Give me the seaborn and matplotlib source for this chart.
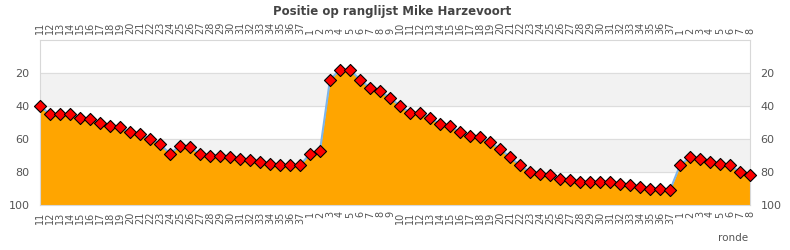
import matplotlib
matplotlib.use("Agg")
import matplotlib.pyplot as plt
import seaborn as sns
import pandas as pd
import numpy as np

rounds = ([str(i) for i in range(11, 38)] + [str(i) for i in range(1, 38)]
          + [str(i) for i in range(1, 9)])
positions = [40, 45, 45, 45, 47, 48, 50, 52, 53, 56, 57, 60, 63, 69, 64, 65, 69, 70, 70, 71,
             72, 73, 74, 75, 76, 76, 76,
             69, 67, 24, 18, 18, 24, 29, 31, 35, 40, 44, 44, 47, 51, 52, 56, 58, 59, 62, 66,
             71, 76, 80, 81, 82, 84, 85, 86, 86, 86, 86, 87, 88, 89, 90, 90, 91,
             76, 71, 72, 74, 75, 76, 80, 82]
y_ticks = [20, 40, 60, 80, 100]

df = pd.DataFrame({"idx": np.arange(len(rounds)), "pos": positions})

sns.set_style("white")
plt.rcParams['font.family'] = ['DejaVu Sans']

fig = plt.figure(figsize=(7.9, 2.5), dpi=100)
ax = fig.add_axes([40/790, 1-205/250, 710/790, 165/250])

for lo, hi in [(20, 40), (60, 80)]:
    ax.axhspan(lo, hi, color="#f2f2f2", zorder=0)
for t in [20, 40, 60, 80]:
    ax.axhline(t, color="#dddddd", lw=0.8, zorder=0.5)

ax.fill_between(df["idx"], df["pos"], 100, color="#FFA500", zorder=1, lw=0)
sns.lineplot(data=df, x="idx", y="pos", ax=ax, color="#7cb5ec", lw=1.5, zorder=2)
sns.scatterplot(data=df, x="idx", y="pos", ax=ax, marker="D", s=38, color="#ff0000",
                edgecolor="black", linewidth=0.8, zorder=3, clip_on=False)

ax.set_xlim(0, len(rounds) - 1)
ax.set_ylim(100, 0)
ax.set_yticks(y_ticks)
ax.set_yticklabels([str(v) for v in y_ticks])
ax.set_xticks(df["idx"])
ax.set_xticklabels(rounds, rotation=90)
ax.tick_params(axis="x", labeltop=True, labelbottom=True, top=False, bottom=False,
               labelsize=7, labelcolor="#555555", pad=1)
ax.tick_params(axis="y", labelleft=True, labelright=True, left=False, right=False,
               labelsize=8, labelcolor="#555555", pad=4)
ax.set_xlabel("")
ax.set_ylabel("")
for s in ax.spines.values():
    s.set_color("#d8d8d8")
    s.set_linewidth(0.8)

fig.text(392/790, 1-12/250, "Positie op ranglijst Mike Harzevoort", ha="center", va="center",
         fontsize=8.5, fontweight="bold", color="#444444")
fig.text(748/790, 1-238/250, "ronde", ha="right", va="center", fontsize=7.5, color="#555555")

fig.savefig("out.png", dpi=100)
